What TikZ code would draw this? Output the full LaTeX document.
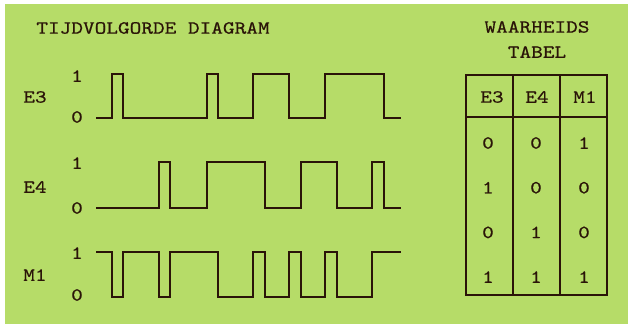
\documentclass[tikz,border=0pt]{standalone}
\usepackage{fontspec}
\newfontfamily\typer{lmmono10-regular}[Extension=.otf, FakeStretch=1.2, FakeBold=0.6]
\usepackage{xcolor}
\definecolor{panel}{HTML}{B6DC68}
\definecolor{ink}{HTML}{2A1408}
\usepackage{tikz}
\usetikzlibrary{positioning}
\tikzset{
    lbl/.style  = {inner sep=0pt, text=ink, font=\typer\fontsize{15.8}{18}\selectfont},
    wave/.style = {line width=1.5pt, color=ink, line join=miter},
    grid/.style = {line width=1.5pt, color=ink},
}

\begin{document}
\begin{tikzpicture}[x=0.03cm, y=-0.03cm]
        \useasboundingbox (0,0) rectangle (628,324);
        \fill[panel] (5,4) rectangle (628,324);
        % titles
        \node[lbl] (title) at (153,28) {TIJDVOLGORDE DIAGRAM};
        \node[lbl] (ttop) at (537,27) {WAARHEIDS};
        \node[lbl] (tbot) at (537,52) {TABEL};
        % signal names and levels
        \node[lbl] (e3) at (35,97) {E3};
        \node[lbl] (e3hi) at (77,76) {1};
        \node[lbl] (e3lo) at (77,117) {0};
        \node[lbl] (e4) at (35,187) {E4};
        \node[lbl] (e4hi) at (77,163) {1};
        \node[lbl] (e4lo) at (77,208) {0};
        \node[lbl] (m1) at (35,275) {M1};
        \node[lbl] (m1hi) at (77,253) {1};
        \node[lbl] (m1lo) at (77,295) {0};
        % E3
        \draw[wave] (96,118) -- (112,118) -- (112,74) -- (123,74) -- (123,118)
              -- (207,118) -- (207,74) -- (218,74) -- (218,118)
              -- (253,118) -- (253,74) -- (289,74) -- (289,118)
              -- (325,118) -- (325,74) -- (384,74) -- (384,118) -- (401,118);
        % E4
        \draw[wave] (96,208) -- (159,208) -- (159,162) -- (170,162) -- (170,208)
              -- (207,208) -- (207,162) -- (265,162) -- (265,208)
              -- (301,208) -- (301,162) -- (337,162) -- (337,208)
              -- (372,208) -- (372,162) -- (384,162) -- (384,208) -- (401,208);
        % M1
        \draw[wave] (96,252) -- (112,252) -- (112,297) -- (123,297) -- (123,252)
              -- (159,252) -- (159,297) -- (170,297) -- (170,252)
              -- (218,252) -- (218,297) -- (253,297) -- (253,252)
              -- (265,252) -- (265,297) -- (289,297) -- (289,252)
              -- (301,252) -- (301,297) -- (325,297) -- (325,252)
              -- (337,252) -- (337,297) -- (372,297) -- (372,252) -- (401,252);
        % table frame
        \draw[grid] (466,75) rectangle (607,295);
        \draw[grid] (466,117) -- (607,117);
        \draw[grid] (513,75) -- (513,295);
        \draw[grid] (560,75) -- (560,295);
        % table head
        \node[lbl] (ha) at (492,97) {E3};
        \node[lbl] (hb) at (537,97) {E4};
        \node[lbl] (hc) at (585,97) {M1};
        % table rows
        \foreach \a/\b/\c [count=\r] in {0/0/1, 1/0/0, 0/1/0, 1/1/1} {
            \pgfmathsetmacro\yy{143 + (\r-1)*44.7}
            \node[lbl] (ra\r) at (488,\yy) {\a};
            \node[lbl] (rb\r) at (536,\yy) {\b};
            \node[lbl] (rc\r) at (584,\yy) {\c};
        }
      \end{tikzpicture}
\end{document}
